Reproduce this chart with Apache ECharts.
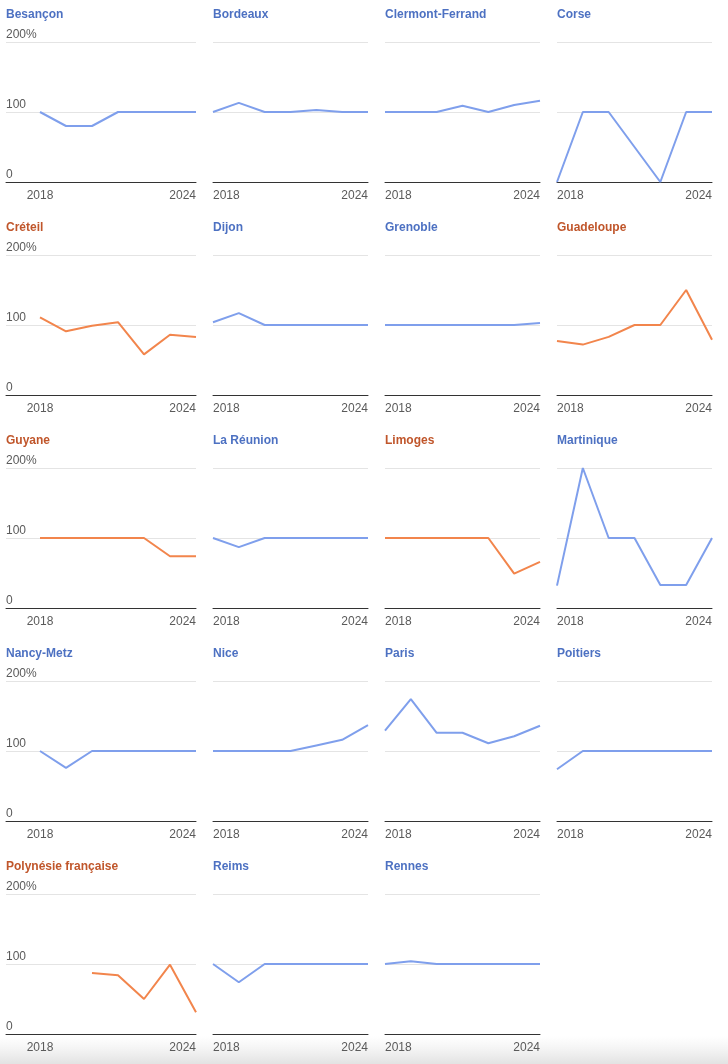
<!DOCTYPE html>
<html><head><meta charset="utf-8">
<script src="https://cdn.jsdelivr.net/npm/echarts@6/dist/echarts.min.js"></script>
<style>html,body{margin:0;padding:0;background:#fff}#c{width:728px;height:1064px}</style>
</head><body><div id="c"></div>
<script>
// ---- data ----
const years = [2018, 2019, 2020, 2021, 2022, 2023, 2024];
const xTickLabels = [2018, 2024];
const yTickValues = [0, 100, 200];
const yTickLabels = ['0', '100', '200%'];

const besancon   = [100, 80, 80, 100, 100, 100, 100];
const bordeaux   = [100, 113, 100, 100, 103, 100, 100];
const clermont   = [100, 100, 100, 109, 100, 110, 116];
const corse      = [0, 100, 100, 50, 0, 100, 100];
const creteil    = [111, 91, 99, 104, 58, 86, 83];
const dijon      = [104, 117, 100, 100, 100, 100, 100];
const grenoble   = [100, 100, 100, 100, 100, 100, 103];
const guadeloupe = [77, 72, 83, 100, 100, 150, 79];
const guyane     = [100, 100, 100, 100, 100, 74, 74];
const reunion    = [100, 87, 100, 100, 100, 100, 100];
const limoges    = [100, 100, 100, 100, 100, 49, 66];
const martinique = [32, 200, 100, 100, 33, 33, 100];
const nancyMetz  = [100, 76, 100, 100, 100, 100, 100];
const nice       = [100, 100, 100, 100, 108, 116, 137];
const paris      = [129, 174, 126, 126, 111, 121, 136];
const poitiers   = [74, 100, 100, 100, 100, 100, 100];
const polynesie  = [null, null, 87, 84, 50, 99, 31];
const reims      = [100, 74, 100, 100, 100, 100, 100];
const rennes     = [100, 104, 100, 100, 100, 100, 100];

const panelNames = ['Besançon','Bordeaux','Clermont-Ferrand','Corse','Créteil','Dijon','Grenoble','Guadeloupe',
  'Guyane','La Réunion','Limoges','Martinique','Nancy-Metz','Nice','Paris','Poitiers',
  'Polynésie française','Reims','Rennes'];
const panelValues = [besancon,bordeaux,clermont,corse,creteil,dijon,grenoble,guadeloupe,
  guyane,reunion,limoges,martinique,nancyMetz,nice,paris,poitiers,polynesie,reims,rennes];
const orangePanels = ['Créteil','Guadeloupe','Guyane','Limoges','Polynésie française'];

// ---- style / layout ----
const BLUE_LINE = '#7f9fec', BLUE_TITLE = '#4d71c2';
const ORANGE_LINE = '#f2854c', ORANGE_TITLE = '#c0562b';
const FONT = '"Liberation Sans", Arial, sans-serif';
const colPlotLeft = [40, 213, 385, 557];
const colPlotRight = [196, 368, 540, 712];
const firstColLeft = 6;
const rowPitch = 213, topGrid = 42, gridH = 140;

const grids = [], xAxes = [], yAxes = [], series = [], titles = [];
panelNames.forEach((name, i) => {
  const col = i % 4, row = Math.floor(i / 4);
  const orange = orangePanels.includes(name);
  const pl = colPlotLeft[col], pr = colPlotRight[col];
  const pxPerYear = (pr - pl) / (years[years.length - 1] - years[0]);
  const left = col === 0 ? firstColLeft : pl;
  const xMin = years[0] - (pl - left) / pxPerYear;
  grids.push({ left: left, top: topGrid + row * rowPitch, width: pr - left, height: gridH });
  titles.push({
    text: name, left: col === 0 ? firstColLeft : pl, top: 9 + row * rowPitch, padding: 0,
    textStyle: { fontFamily: FONT, fontSize: 12, fontWeight: 'bold', color: orange ? ORANGE_TITLE : BLUE_TITLE }
  });
  xAxes.push({
    type: 'value', gridIndex: i, min: xMin, max: years[years.length - 1],
    axisLine: { show: true, lineStyle: { color: '#333', width: 1 } },
    axisTick: { show: false }, splitLine: { show: false },
    axisLabel: {
      customValues: xTickLabels, margin: 8, fontFamily: FONT, fontSize: 12, color: '#5a5a5a',
      alignMinLabel: col === 0 ? 'center' : 'left', alignMaxLabel: 'right',
      formatter: v => String(v)
    }
  });
  yAxes.push({
    type: 'value', gridIndex: i, min: 0, max: 200, interval: 100,
    axisLine: { show: false }, axisTick: { show: false },
    splitLine: { show: true, lineStyle: { color: '#e4e4e4', width: 1 } },
    axisLabel: {
      show: col === 0, inside: true, margin: 0, verticalAlign: 'bottom', padding: [0, 0, 1, 0],
      fontFamily: FONT, fontSize: 12, color: '#5a5a5a',
      formatter: v => yTickLabels[yTickValues.indexOf(v)]
    }
  });
  series.push({
    type: 'line', xAxisIndex: i, yAxisIndex: i, symbol: 'none', silent: true,
    lineStyle: { width: 2, color: orange ? ORANGE_LINE : BLUE_LINE },
    data: years.map((y, k) => [y, panelValues[i][k]]).filter(d => d[1] !== null)
  });
});

const chart = echarts.init(document.getElementById('c'), null, { renderer: 'canvas' });
chart.setOption({
  animation: false,
  backgroundColor: '#fff',
  title: titles, grid: grids, xAxis: xAxes, yAxis: yAxes, series: series,
  graphic: [{
    type: 'rect', left: 0, top: 1036, z: -1, silent: true,
    shape: { width: 728, height: 28 },
    style: { fill: new echarts.graphic.LinearGradient(0, 0, 0, 1, [
      { offset: 0, color: 'rgba(235,235,235,0)' }, { offset: 1, color: 'rgba(226,226,226,1)' }]) }
  }]
});
</script></body></html>
